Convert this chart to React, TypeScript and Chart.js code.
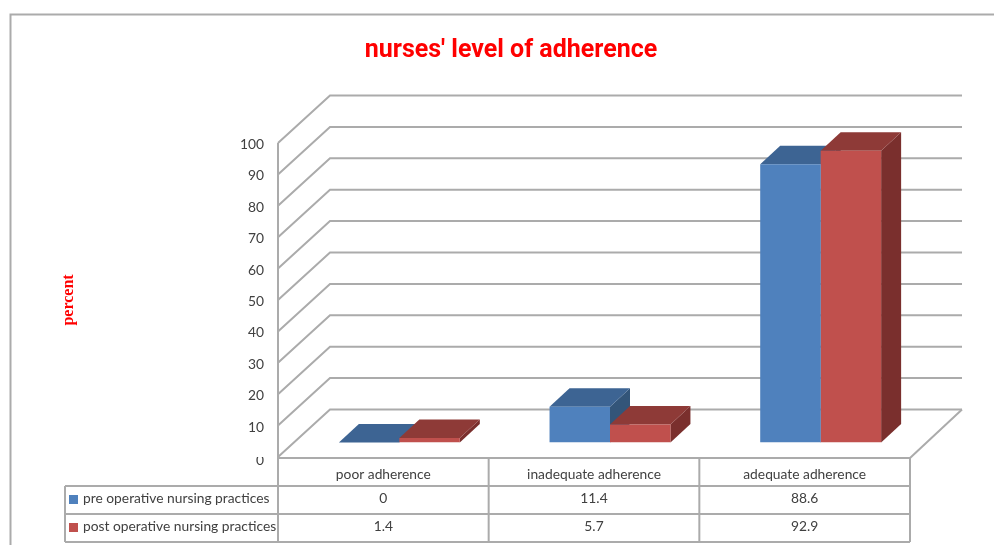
import React, { useEffect, useRef } from "react";
import { Chart, registerables } from "chart.js";

Chart.register(...registerables);

const categories = ["poor adherence", "inadequate adherence", "adequate adherence"];
const preValues = [0, 11.4, 88.6];
const postValues = [1.4, 5.7, 92.9];
const seriesNames = ["pre operative nursing practices", "post operative nursing practices"];
const chartTitle = "nurses' level of adherence";
const yTitle = "percent";

const BLUE = "#4F81BD";
const RED = "#C0504D";
const BLUE_TOP = "#3D6493";
const RED_TOP = "#8E3A37";
const BLUE_SIDE = "#335579";
const RED_SIDE = "#7A2F2D";
const GRID = "#ABABAB";
const TEXT = "#404040";
const LABEL_FONT = "13.8px Lato";

const WALL = { dx: 52, dy: -47.5 };
const BAR_SHIFT = { dx: 16, dy: -14.5 };
const BAR_DEPTH = { dx: 20, dy: -18.5 };

const line = (ctx: CanvasRenderingContext2D, pts: number[][]) => {
  ctx.beginPath();
  pts.forEach(([x, y], i) => (i ? ctx.lineTo(x, y) : ctx.moveTo(x, y)));
  ctx.stroke();
};
const poly = (ctx: CanvasRenderingContext2D, color: string, pts: number[][]) => {
  ctx.fillStyle = color;
  ctx.beginPath();
  pts.forEach(([x, y], i) => (i ? ctx.lineTo(x, y) : ctx.moveTo(x, y)));
  ctx.closePath();
  ctx.fill();
};

const threeD = {
  id: "threeD",
  afterUpdate(chart: any) {
    chart.scales.y.getLabelItems().forEach((item: any) => {
      item.options.translation[1] += item.label === "0" ? 4 : 1.5;
    });
  },
  beforeDraw(chart: any) {
    const { ctx } = chart;
    ctx.save();
    ctx.strokeStyle = "#ABABAB";
    ctx.lineWidth = 2;
    line(ctx, [[10.5, 545], [10.5, 14.5], [994, 14.5]]);
    ctx.restore();
  },
  beforeDatasetsDraw(chart: any) {
    const { ctx, chartArea: a, scales } = chart;
    const y = scales.y;
    ctx.save();
    // the reference's zero label has its upper part cut off
    ctx.fillStyle = "#fff";
    ctx.fillRect(a.left - 28, a.bottom - 10, 24, 10);
    ctx.strokeStyle = GRID;
    ctx.lineWidth = 2;
    y.ticks.forEach((t: any) => {
      const py = y.getPixelForValue(t.value);
      line(ctx, [[a.left, py], [a.left + WALL.dx, py + WALL.dy], [a.right + WALL.dx, py + WALL.dy]]);
    });
    line(ctx, [[a.left, a.top], [a.left, a.bottom + 1]]);
    line(ctx, [[a.right, a.bottom + 1], [a.right + WALL.dx, a.bottom + WALL.dy]]);
    ctx.restore();

    ctx.save();
    ctx.translate(BAR_SHIFT.dx, BAR_SHIFT.dy);
    categories.forEach((_, i) => {
      [0, 1].forEach((ds) => {
        const bar = chart.getDatasetMeta(ds).data[i];
        const l = bar.x - bar.width / 2;
        const r = bar.x + bar.width / 2;
        const { dx, dy } = BAR_DEPTH;
        poly(ctx, ds ? RED_SIDE : BLUE_SIDE, [[r, bar.y], [r + dx, bar.y + dy], [r + dx, bar.base + dy], [r, bar.base]]);
        poly(ctx, ds ? RED_TOP : BLUE_TOP, [[l, bar.y], [l + dx, bar.y + dy], [r + dx, bar.y + dy], [r, bar.y]]);
      });
    });
  },
  afterDatasetsDraw(chart: any) {
    chart.ctx.restore();
  },
  afterDraw(chart: any) {
    const { ctx, chartArea: a, scales } = chart;
    const x = scales.x;
    const tableLeft = 65;
    const rows = [a.bottom + 1, 486, 514, 542];
    const cols = categories.map((_, i) => a.left + ((a.right - a.left) * i) / categories.length);
    ctx.save();
    ctx.strokeStyle = GRID;
    ctx.lineWidth = 2;
    line(ctx, [[a.left, rows[0]], [a.right, rows[0]]]);
    rows.slice(1).forEach((r) => line(ctx, [[tableLeft, r], [a.right, r]]));
    line(ctx, [[tableLeft, rows[1]], [tableLeft, rows[3]]]);
    [...cols, a.right].forEach((c) => line(ctx, [[c, rows[0]], [c, rows[3]]]));

    ctx.font = LABEL_FONT;
    ctx.fillStyle = TEXT;
    ctx.textBaseline = "middle";
    [preValues, postValues].forEach((vals, r) => {
      const cy = rows[r + 1] + 13;
      ctx.textAlign = "left";
      ctx.fillStyle = r ? RED : BLUE;
      ctx.fillRect(69, cy - 4, 9, 9);
      ctx.fillStyle = TEXT;
      ctx.fillText(seriesNames[r], 83, cy);
      ctx.textAlign = "center";
      vals.forEach((v, i) => ctx.fillText(String(v), x.getPixelForValue(i), cy));
    });
    ctx.restore();
  },
};

export default function App() {
  const ref = useRef<HTMLCanvasElement>(null);
  useEffect(() => {
    const chart = new Chart(ref.current!, {
      type: "bar",
      data: {
        labels: categories,
        datasets: [
          { label: seriesNames[0], data: preValues, backgroundColor: BLUE },
          { label: seriesNames[1], data: postValues, backgroundColor: RED },
        ],
      },
      plugins: [threeD],
      options: {
        responsive: false,
        animation: false,
        layout: { padding: 0 },
        datasets: { bar: { barPercentage: 1, categoryPercentage: 0.574 } },
        plugins: {
          legend: { display: false },
          tooltip: { enabled: false },
          title: {
            display: true,
            text: chartTitle,
            color: "#FF0000",
            font: { family: "Roboto", size: 25, weight: "bold" },
            padding: { top: 36, bottom: 77 },
          },
        },
        scales: {
          x: {
            grid: { display: false },
            border: { display: false },
            ticks: { color: TEXT, font: { family: "Lato", size: 13.8 }, padding: 1, maxRotation: 0, autoSkip: false },
            afterFit: (s: any) => { s.height = 88; },
          },
          y: {
            min: 0,
            max: 100,
            grid: { display: false },
            border: { display: false },
            ticks: { stepSize: 10, color: TEXT, font: { family: "Lato", size: 13.8 }, padding: 6 },
            title: {
              display: true,
              text: yTitle,
              color: "#FF0000",
              font: { family: "Liberation Serif", size: 16, weight: "bold" },
              padding: { top: 59, bottom: 0 },
            },
            afterFit: (s: any) => { s.width = 278; },
          },
          // empty right-hand gutter that keeps the plot clear of the back wall
          gutter: {
            position: "right",
            grid: { display: false },
            border: { display: false },
            ticks: { display: false },
            afterFit: (s: any) => { s.width = 112; },
          },
        },
      },
    } as any);
    return () => chart.destroy();
  }, []);
  return (
    <div style={{ position: "fixed", left: 0, top: 0, width: 994, height: 545, overflow: "hidden", background: "#fff" }}>
      <canvas ref={ref} width={1022} height={545} style={{ display: "block" }} />
    </div>
  );
}
